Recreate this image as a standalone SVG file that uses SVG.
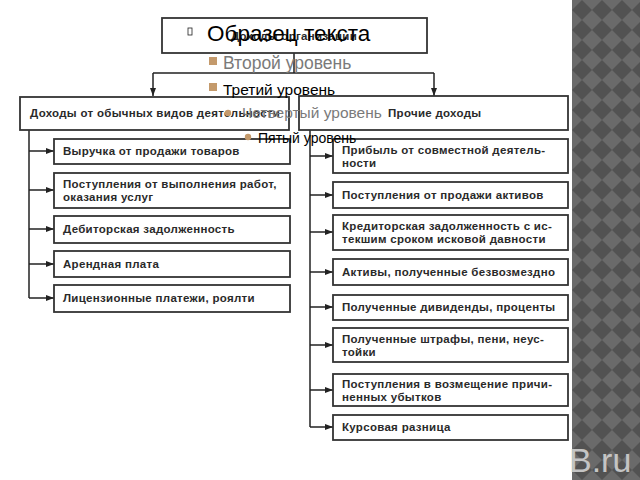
<svg xmlns="http://www.w3.org/2000/svg" width="640" height="480" viewBox="0 0 640 480">
<defs>
<pattern id="chk" x="572" y="0" width="20" height="20" patternUnits="userSpaceOnUse">
<rect width="20" height="20" fill="#6a6a6a"/>
<polygon points="10,0 20,10 10,20 0,10" fill="#525252"/>
</pattern>
<marker id="ah" viewBox="0 0 8 6" refX="8" refY="3" markerWidth="8" markerHeight="6" markerUnits="userSpaceOnUse" orient="auto">
<path d="M0,0 L8,3 L0,6 Z" fill="#222"/>
</marker>
<style>
.box{fill:#fff;stroke:#333;stroke-width:1.8}
.t{font-family:"Liberation Sans",Arial,sans-serif;font-size:11.5px;font-weight:bold;letter-spacing:0.3px;fill:#2a2a2a}
.c{fill:none;stroke:#222;stroke-width:1.5}
.ov{font-family:"Liberation Sans",Arial,sans-serif}
</style>
</defs>
<rect width="640" height="480" fill="#fff"/>
<rect x="572" y="0" width="68" height="480" fill="url(#chk)"/>
<text x="569" y="472" class="ov" font-size="34" fill="#c4c4c4">B.ru</text>

<g id="connectors">
<path class="c" d="M294,53 V73 M153,73 H434"/>
<path class="c" d="M153,73 V96" marker-end="url(#ah)"/>
<path class="c" d="M434,73 V96" marker-end="url(#ah)"/>
<path class="c" d="M29,130 V298"/>
<path class="c" d="M29,151 H54" marker-end="url(#ah)"/>
<path class="c" d="M29,190 H54" marker-end="url(#ah)"/>
<path class="c" d="M29,229 H54" marker-end="url(#ah)"/>
<path class="c" d="M29,264 H54" marker-end="url(#ah)"/>
<path class="c" d="M29,298 H54" marker-end="url(#ah)"/>
<path class="c" d="M310,130 V427"/>
<path class="c" d="M310,156 H333" marker-end="url(#ah)"/>
<path class="c" d="M310,195 H333" marker-end="url(#ah)"/>
<path class="c" d="M310,232 H333" marker-end="url(#ah)"/>
<path class="c" d="M310,272 H333" marker-end="url(#ah)"/>
<path class="c" d="M310,307 H333" marker-end="url(#ah)"/>
<path class="c" d="M310,345 H333" marker-end="url(#ah)"/>
<path class="c" d="M310,390 H333" marker-end="url(#ah)"/>
<path class="c" d="M310,427 H333" marker-end="url(#ah)"/>
</g>

<g id="root"><rect class="box" x="162" y="18" width="265" height="35"/><text class="t" x="294" y="40" text-anchor="middle">Доходы организации</text></g>
<g id="ordinary"><rect class="box" x="20" y="97" width="269" height="33"/><text class="t" x="30" y="117">Доходы от обычных видов деятельности</text></g>
<g id="other"><rect class="box" x="299" y="96" width="269" height="34"/><text class="t" x="388" y="117">Прочие доходы</text></g>

<g id="l1"><rect class="box" x="54" y="139" width="236" height="25"/><text class="t" x="63" y="155">Выручка от продажи товаров</text></g>
<g id="l2"><rect class="box" x="54" y="173" width="236" height="35"/><text class="t" x="63" y="188">Поступления от выполнения работ,</text><text class="t" x="63" y="201">оказания услуг</text></g>
<g id="l3"><rect class="box" x="54" y="216" width="236" height="27"/><text class="t" x="63" y="233">Дебиторская задолженность</text></g>
<g id="l4"><rect class="box" x="54" y="251" width="236" height="26"/><text class="t" x="63" y="268">Арендная плата</text></g>
<g id="l5"><rect class="box" x="54" y="285" width="236" height="27"/><text class="t" x="63" y="302">Лицензионные платежи, роялти</text></g>

<g id="r1"><rect class="box" x="333" y="139" width="235" height="34"/><text class="t" x="342" y="154">Прибыль от совместной деятель-</text><text class="t" x="342" y="167">ности</text></g>
<g id="r2"><rect class="box" x="333" y="182" width="235" height="26"/><text class="t" x="342" y="199">Поступления от продажи активов</text></g>
<g id="r3"><rect class="box" x="333" y="215" width="235" height="35"/><text class="t" x="342" y="230">Кредиторская задолженность с ис-</text><text class="t" x="342" y="243">текшим сроком исковой давности</text></g>
<g id="r4"><rect class="box" x="333" y="259" width="235" height="26"/><text class="t" x="342" y="276">Активы, полученные безвозмездно</text></g>
<g id="r5"><rect class="box" x="333" y="295" width="235" height="25"/><text class="t" x="342" y="311">Полученные дивиденды, проценты</text></g>
<g id="r6"><rect class="box" x="333" y="328" width="235" height="34"/><text class="t" x="342" y="343">Полученные штрафы, пени, неус-</text><text class="t" x="342" y="356">тойки</text></g>
<g id="r7"><rect class="box" x="333" y="374" width="235" height="32"/><text class="t" x="342" y="388">Поступления в возмещение причи-</text><text class="t" x="342" y="401">ненных убытков</text></g>
<g id="r8"><rect class="box" x="333" y="415" width="235" height="25"/><text class="t" x="342" y="431">Курсовая разница</text></g>

<g id="placeholder">
<rect x="188" y="28" width="4" height="7" fill="none" stroke="#222" stroke-width="0.8"/>
<text class="ov" x="207" y="41" font-size="22.5" fill="#000">Образец текста</text>
<rect x="209" y="57" width="8" height="8" fill="#c49a6c"/>
<text class="ov" x="223" y="69" font-size="17.5" fill="#7a7a7a">Второй уровень</text>
<rect x="209" y="83" width="8" height="8" fill="#c49a6c"/>
<text class="ov" x="223" y="95" font-size="15.5" fill="#000">Третий уровень</text>
<circle cx="228" cy="113" r="3.2" fill="#c49a6c"/>
<text class="ov" x="242" y="118" font-size="15.5" fill="#7a7a7a">Четвертый уровень</text>
<circle cx="248" cy="137" r="3.2" fill="#c49a6c"/>
<text class="ov" x="258" y="143" font-size="14" fill="#000">Пятый уровень</text>
</g>
</svg>
